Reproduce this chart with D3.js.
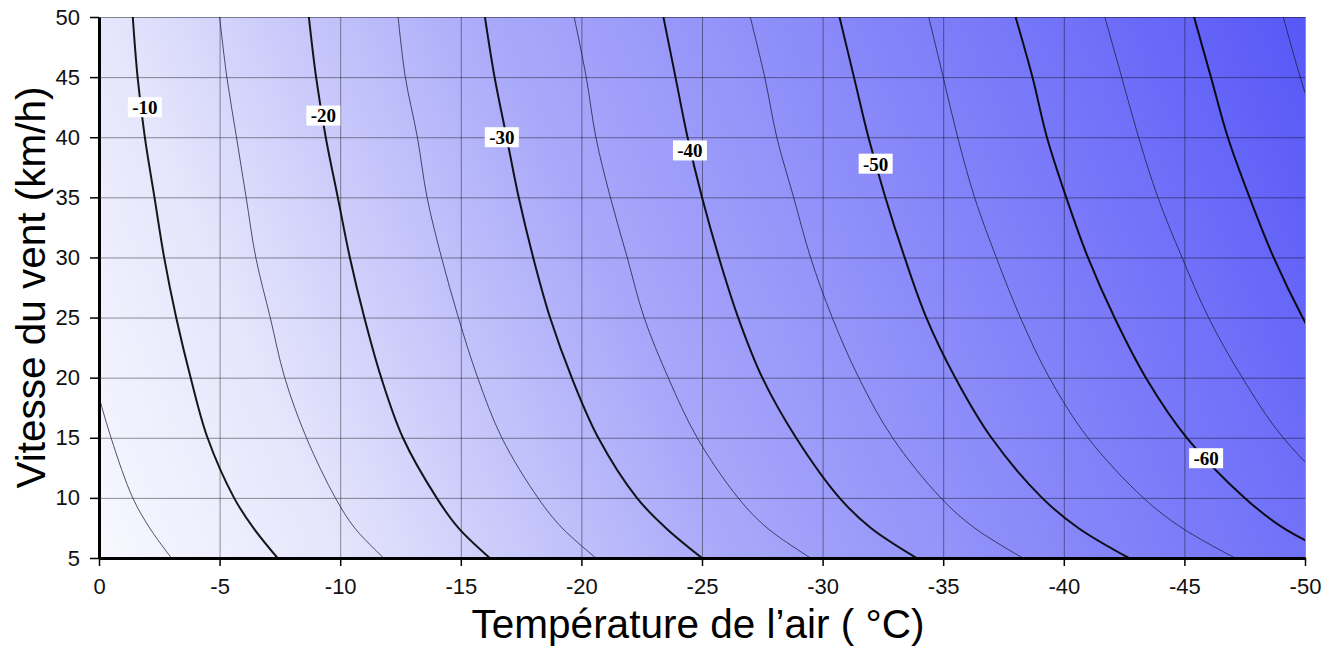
<!DOCTYPE html>
<html lang="fr">
<head>
    <meta charset="UTF-8">
    <title>Refroidissement éolien</title>
    <script src="https://d3js.org/d3.v7.min.js"></script>
    <style>
        body { margin: 0; background: #fff; }
        svg { display: block; }
    </style>
</head>
<body>
    <div id="chart"></div>

    <script>
        const windSpeeds = [5, 7.5, 10, 15, 20, 25, 30, 35, 40, 45, 50];

        // Air temperature (°C) along each wind-chill iso-line
        const iso5  = [-3.0, -2.1, -1.4, -0.5, 0.2, 0.7, 1.1, 1.5, 1.8, 2.1, 2.3];
        const iso10 = [-7.4, -6.4, -5.6, -4.5, -3.8, -3.2, -2.7, -2.3, -1.9, -1.6, -1.4];
        const iso15 = [-11.8, -10.6, -9.8, -8.6, -7.7, -7.1, -6.5, -6.1, -5.7, -5.3, -5.0];
        const iso20 = [-16.2, -14.9, -14.0, -12.6, -11.7, -11.0, -10.4, -9.9, -9.4, -9.0, -8.7];
        const iso25 = [-20.6, -19.2, -18.2, -16.7, -15.7, -14.9, -14.2, -13.6, -13.2, -12.7, -12.4];
        const iso30 = [-25.0, -23.5, -22.3, -20.7, -19.6, -18.7, -18.0, -17.4, -16.9, -16.4, -16.0];
        const iso35 = [-29.5, -27.7, -26.5, -24.8, -23.6, -22.6, -21.9, -21.2, -20.6, -20.2, -19.7];
        const iso40 = [-33.9, -32.0, -30.7, -28.9, -27.5, -26.5, -25.7, -25.0, -24.4, -23.9, -23.4];
        const iso45 = [-38.3, -36.3, -34.9, -32.9, -31.5, -30.4, -29.5, -28.8, -28.1, -27.6, -27.0];
        const iso50 = [-42.7, -40.6, -39.1, -37.0, -35.5, -34.3, -33.4, -32.6, -31.9, -31.3, -30.7];
        const iso55 = [-47.1, -44.9, -43.3, -41.0, -39.4, -38.2, -37.2, -36.3, -35.6, -35.0, -34.4];
        const iso60 = [-51.5, -49.1, -47.5, -45.1, -43.4, -42.1, -41.0, -40.1, -39.3, -38.7, -38.0];
        const iso65 = [-55.9, -53.4, -51.6, -49.1, -47.4, -46.0, -44.9, -43.9, -43.1, -42.4, -41.7];
        const iso70 = [-60.3, -57.7, -55.8, -53.2, -51.3, -49.9, -48.7, -47.7, -46.8, -46.1, -45.4];
        const iso75 = [-64.7, -62.0, -60.0, -57.2, -55.3, -53.8, -52.5, -51.5, -50.6, -49.8, -49.1];

        const levels = [-5, -10, -15, -20, -25, -30, -35, -40, -45, -50, -55, -60, -65, -70, -75];
        const isoLines = [iso5, iso10, iso15, iso20, iso25, iso30, iso35, iso40, iso45, iso50, iso55, iso60, iso65, iso70, iso75];

        // In-line labels
        const labelTexts = ["-10", "-20", "-30", "-40", "-50", "-60"];
        const labelTemps = [-1.9, -9.3, -16.7, -24.5, -32.2, -45.9];
        const labelSpeeds = [42.5, 41.8, 40.0, 38.9, 37.8, 13.3];

        const xTicks = [0, -5, -10, -15, -20, -25, -30, -35, -40, -45, -50];
        const yTicks = [5, 10, 15, 20, 25, 30, 35, 40, 45, 50];

        const W = 1338, H = 654;
        const pLeft = 99, pRight = 1305, pTop = 17, pBottom = 558;

        const svg = d3.select("#chart").append("svg")
            .attr("width", W)
            .attr("height", H);

        const x = d3.scaleLinear().domain([0, -50]).range([pLeft, pRight]);
        const y = d3.scaleLinear().domain([5, 50]).range([pBottom, pTop]);

        const defs = svg.append("defs");

        defs.append("clipPath").attr("id", "plot-clip")
            .append("rect")
            .attr("x", pLeft).attr("y", pTop)
            .attr("width", pRight - pLeft).attr("height", pBottom - pTop);

        // background shading, roughly following the wind-chill value
        const grad = defs.append("linearGradient")
            .attr("id", "bg-grad")
            .attr("gradientUnits", "userSpaceOnUse")
            .attr("x1", pLeft).attr("y1", pBottom)
            .attr("x2", 1310).attr("y2", 27);
        [[0, "#f8f8ff"], [0.164, "#e6e6fc"], [0.433, "#a9a9fa"], [0.836, "#7171f9"], [1, "#5757f7"]]
            .forEach(s => grad.append("stop").attr("offset", s[0]).attr("stop-color", s[1]));

        svg.append("rect")
            .attr("x", pLeft).attr("y", pTop)
            .attr("width", pRight - pLeft).attr("height", pBottom - pTop)
            .attr("fill", "url(#bg-grad)");

        // grid
        const grid = svg.append("g").attr("stroke", "#000").attr("stroke-opacity", 0.42).attr("stroke-width", 1);
        grid.selectAll(".gx").data(xTicks.slice(1))
            .enter().append("line")
            .attr("x1", d => x(d) + 0.5).attr("x2", d => x(d) + 0.5)
            .attr("y1", pTop).attr("y2", pBottom);
        grid.selectAll(".gy").data(yTicks.slice(1))
            .enter().append("line")
            .attr("y1", d => y(d) + 0.5).attr("y2", d => y(d) + 0.5)
            .attr("x1", pLeft).attr("x2", pRight);

        // iso-lines
        const line = d3.line()
            .x(d => x(d[0]))
            .y(d => y(d[1]))
            .curve(d3.curveCatmullRom);

        const contours = svg.append("g").attr("clip-path", "url(#plot-clip)").attr("fill", "none");
        isoLines.forEach((temps, i) => {
            const major = levels[i] % 10 === 0;
            contours.append("path")
                .datum(temps.map((t, j) => [t, windSpeeds[j]]))
                .attr("d", line)
                .attr("stroke", major ? "#000" : "#1a1a3a")
                .attr("stroke-opacity", major ? 0.9 : 0.75)
                .attr("stroke-width", major ? 2 : 1);
        });

        // labels
        const labels = svg.append("g");
        labelTexts.forEach((t, i) => {
            const cx = x(labelTemps[i]), cy = y(labelSpeeds[i]);
            labels.append("rect")
                .attr("x", cx - 17).attr("y", cy - 10)
                .attr("width", 34).attr("height", 20)
                .attr("fill", "#fff");
            labels.append("text")
                .attr("x", cx).attr("y", cy)
                .attr("dy", "0.36em")
                .attr("text-anchor", "middle")
                .style("font-family", "'Liberation Serif', 'Times New Roman', serif")
                .style("font-weight", "bold")
                .style("font-size", "19px")
                .text(t);
        });

        // axes
        const xAxis = svg.append("g")
            .attr("transform", `translate(0,${pBottom})`)
            .call(d3.axisBottom(x).tickValues(xTicks).tickFormat(d => String(d))
                .tickSize(8).tickSizeOuter(0).tickPadding(12));
        const yAxis = svg.append("g")
            .attr("transform", `translate(${pLeft},0)`)
            .call(d3.axisLeft(y).tickValues(yTicks).tickFormat(d => String(d))
                .tickSize(9).tickSizeOuter(0).tickPadding(10));

        [xAxis, yAxis].forEach(a => {
            a.select(".domain").attr("stroke", "#000").attr("stroke-width", 3);
            a.selectAll(".tick line").attr("stroke", "#000").attr("stroke-width", 1.5);
            a.selectAll(".tick text")
                .attr("fill", "#111")
                .style("font-family", "'Liberation Sans', Arial, sans-serif")
                .style("font-size", "22px");
        });

        // axis titles
        svg.append("text")
            .attr("x", (pLeft + pRight) / 2 - 4)
            .attr("y", 638)
            .attr("text-anchor", "middle")
            .style("font-family", "'Liberation Sans', Arial, sans-serif")
            .style("font-size", "40.5px")
            .text("Température de l’air ( °C)");

        svg.append("text")
            .attr("transform", `translate(45,${(pTop + pBottom) / 2}) rotate(-90)`)
            .attr("text-anchor", "middle")
            .style("font-family", "'Liberation Sans', Arial, sans-serif")
            .style("font-size", "40.5px")
            .text("Vitesse du vent (km/h)");
    </script>
</body>
</html>
